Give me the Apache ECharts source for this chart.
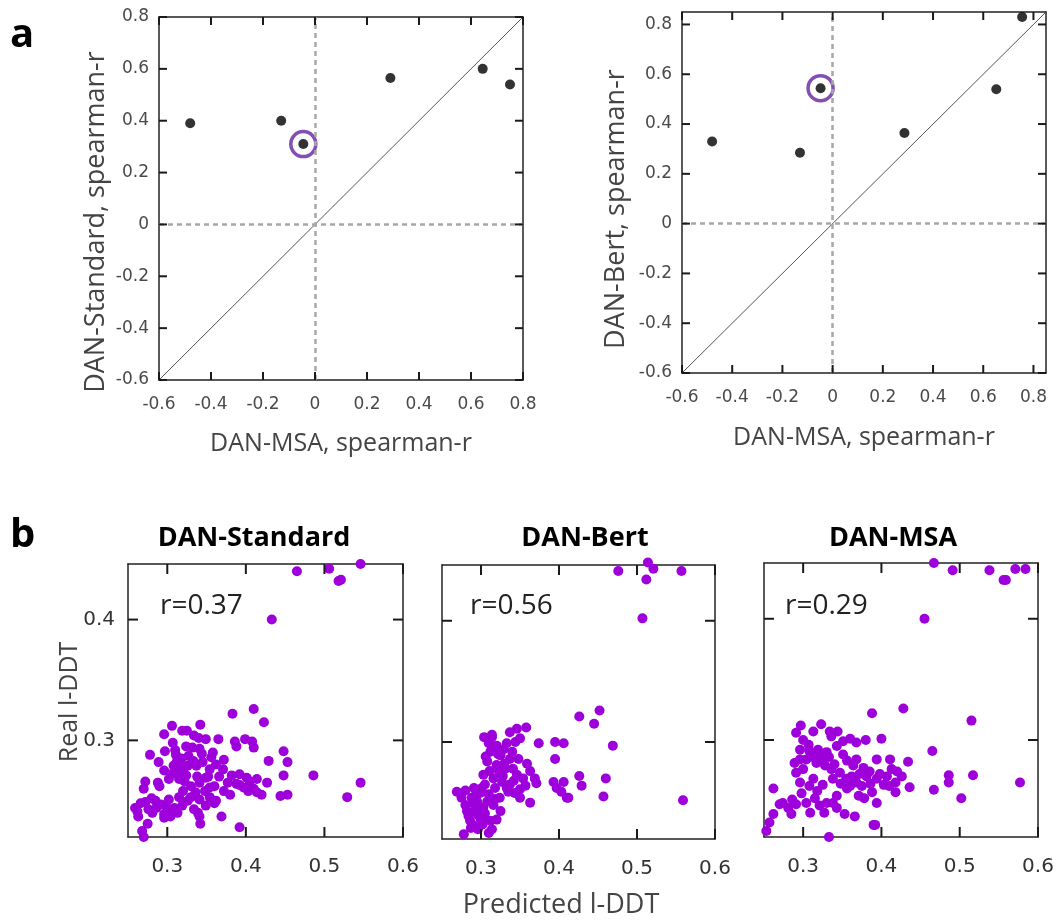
<!DOCTYPE html>
<html><head><meta charset="utf-8">
<script src="https://cdn.jsdelivr.net/npm/echarts@6/dist/echarts.min.js"></script>
<style>html,body{margin:0;padding:0;background:#fff}#c{width:1062px;height:922px}</style>
</head><body><div id="c"></div>
<script>
// ---------- data ----------
const aTicks = [-0.6, -0.4, -0.2, 0, 0.2, 0.4, 0.6, 0.8];
const aStandard = [[-0.48,0.39],[-0.13,0.40],[-0.045,0.31],[0.29,0.565],[0.645,0.60],[0.75,0.54]];
const aStandardHighlight = [[-0.045,0.31]];
const aBert = [[-0.48,0.33],[-0.13,0.285],[-0.048,0.544],[0.286,0.364],[0.652,0.54],[0.755,0.83]];
const aBertHighlight = [[-0.048,0.544]];
const aDiagLeft = [[-0.6,-0.6],[0.8,0.8]];
const aDiagRight = [[-0.6,-0.6],[0.85,0.85]];

const bXTicks = [0.3, 0.4, 0.5, 0.6];
const bYTicks = [0.3, 0.4];
const bTitles = ['DAN-Standard', 'DAN-Bert', 'DAN-MSA'];
const bR = ['r=0.37', 'r=0.56', 'r=0.29'];

const bStandard = [
 [0.465,0.440],[0.506,0.442],[0.518,0.432],[0.521,0.433],[0.546,0.446],[0.433,0.400],
 [0.410,0.326],[0.383,0.322],[0.423,0.315],[0.486,0.271],[0.546,0.265],[0.529,0.253],
 [0.448,0.291],[0.453,0.282],[0.448,0.271],[0.429,0.283],[0.444,0.254],[0.453,0.255],
 [0.392,0.228],[0.369,0.237],[0.342,0.231],[0.270,0.220],[0.268,0.225],
 [0.306,0.312],[0.319,0.308],[0.325,0.308],[0.342,0.313],
 [0.296,0.305],[0.307,0.298],[0.334,0.304],[0.340,0.302],[0.349,0.301],[0.365,0.301],[0.386,0.299],[0.399,0.301],[0.408,0.299],
 [0.278,0.288],[0.297,0.291],[0.311,0.288],[0.324,0.295],[0.332,0.294],[0.341,0.293],[0.358,0.290],[0.372,0.284],[0.410,0.294],[0.388,0.295],
 [0.289,0.282],[0.296,0.275],[0.312,0.282],[0.315,0.275],[0.326,0.279],[0.337,0.279],[0.345,0.282],[0.354,0.276],[0.362,0.280],[0.371,0.276],[0.382,0.271],[0.392,0.272],[0.401,0.269],[0.414,0.268],[0.427,0.265],
 [0.272,0.266],[0.288,0.265],[0.290,0.262],[0.315,0.268],[0.324,0.271],[0.341,0.265],[0.349,0.269],[0.354,0.261],[0.377,0.265],[0.388,0.264],[0.397,0.261],[0.410,0.260],[0.420,0.255],
 [0.270,0.260],[0.302,0.251],[0.315,0.253],[0.330,0.253],[0.341,0.251],[0.354,0.253],[0.362,0.250],[0.380,0.255],[0.403,0.258],[0.414,0.257],
 [0.259,0.244],[0.266,0.248],[0.276,0.243],[0.281,0.240],[0.296,0.239],[0.309,0.244],[0.319,0.246],[0.334,0.243],[0.339,0.240],[0.349,0.246],[0.360,0.248],
 [0.263,0.237],[0.275,0.231],[0.296,0.236],[0.304,0.237],[0.313,0.240],[0.341,0.237],
 [0.318,0.285],[0.322,0.278],[0.305,0.272],[0.330,0.262],[0.285,0.250],[0.292,0.247],[0.352,0.270],[0.336,0.257],
 [0.310,0.292],[0.314,0.284],[0.318,0.272],[0.322,0.266],[0.327,0.287],[0.333,0.283],[0.338,0.270],[0.344,0.289],
 [0.308,0.279],[0.302,0.268],[0.320,0.258],[0.326,0.250],[0.300,0.244],[0.286,0.244],[0.280,0.252],[0.272,0.249],
 [0.360,0.262],[0.366,0.270],[0.356,0.286],[0.348,0.258],[0.392,0.263],[0.405,0.266],[0.372,0.258],[0.262,0.241]
];
const bBert = [
 [0.476,0.441],[0.514,0.448],[0.521,0.443],[0.512,0.434],[0.557,0.441],[0.507,0.402],
 [0.426,0.321],[0.452,0.326],[0.445,0.315],[0.469,0.297],[0.395,0.300],[0.406,0.299],[0.374,0.299],[0.395,0.286],
 [0.559,0.252],[0.457,0.255],[0.460,0.270],[0.426,0.272],[0.429,0.264],[0.410,0.254],
 [0.403,0.259],[0.393,0.267],[0.406,0.267],[0.397,0.262],[0.412,0.254],
 [0.358,0.312],[0.346,0.311],[0.337,0.308],[0.350,0.303],[0.314,0.304],[0.310,0.299],[0.320,0.297],[0.333,0.299],
 [0.340,0.292],[0.312,0.292],[0.325,0.289],[0.337,0.286],[0.348,0.286],[0.359,0.282],[0.363,0.276],
 [0.308,0.284],[0.320,0.281],[0.331,0.278],[0.346,0.273],[0.354,0.270],[0.369,0.270],[0.371,0.266],
 [0.303,0.273],[0.316,0.270],[0.327,0.267],[0.337,0.265],[0.335,0.259],[0.350,0.261],[0.350,0.254],[0.363,0.250],
 [0.269,0.259],[0.280,0.260],[0.291,0.262],[0.299,0.258],[0.310,0.257],[0.295,0.251],[0.282,0.243],[0.280,0.248],
 [0.291,0.243],[0.303,0.246],[0.316,0.248],[0.325,0.243],[0.299,0.237],[0.286,0.235],[0.312,0.235],[0.320,0.236],
 [0.291,0.231],[0.314,0.228],[0.310,0.225],[0.278,0.224],[0.304,0.304],[0.314,0.306],
 [0.323,0.276],[0.330,0.282],[0.305,0.265],[0.318,0.262],[0.296,0.240],[0.305,0.241],[0.288,0.254],[0.341,0.278],
 [0.315,0.296],[0.322,0.290],[0.328,0.272],[0.333,0.262],[0.342,0.268],[0.311,0.276],[0.306,0.288],[0.318,0.253],
 [0.308,0.251],[0.297,0.246],[0.290,0.250],[0.284,0.239],[0.302,0.232],[0.296,0.228],[0.287,0.229],[0.306,0.236],
 [0.324,0.254],[0.343,0.258],[0.357,0.264],[0.329,0.294],[0.344,0.300],[0.301,0.262],[0.293,0.256],[0.275,0.254]
];
const bMSA = [
 [0.467,0.446],[0.491,0.440],[0.538,0.440],[0.556,0.432],[0.559,0.432],[0.571,0.441],[0.584,0.441],[0.455,0.400],
 [0.428,0.326],[0.388,0.322],[0.515,0.316],[0.465,0.291],[0.486,0.271],[0.486,0.265],[0.517,0.271],[0.467,0.259],
 [0.502,0.252],[0.577,0.265],[0.436,0.261],[0.434,0.282],[0.411,0.284],
 [0.253,0.225],[0.257,0.232],[0.262,0.239],[0.262,0.260],[0.333,0.220],[0.390,0.230],
 [0.297,0.312],[0.291,0.306],[0.323,0.313],[0.313,0.307],[0.336,0.303],[0.344,0.307],[0.334,0.307],
 [0.360,0.301],[0.368,0.298],[0.380,0.300],[0.400,0.301],
 [0.296,0.292],[0.308,0.291],[0.319,0.292],[0.330,0.290],[0.343,0.295],[0.351,0.288],
 [0.304,0.284],[0.317,0.281],[0.328,0.279],[0.289,0.281],[0.356,0.283],[0.364,0.279],[0.377,0.277],[0.385,0.274],[0.394,0.284],
 [0.291,0.273],[0.296,0.265],[0.313,0.268],[0.325,0.263],[0.338,0.268],[0.347,0.273],[0.355,0.268],[0.368,0.265],
 [0.381,0.270],[0.394,0.268],[0.407,0.270],[0.420,0.274],[0.418,0.265],[0.403,0.263],[0.418,0.257],[0.388,0.257],
 [0.371,0.254],[0.356,0.260],[0.343,0.254],[0.330,0.248],[0.315,0.252],[0.304,0.248],[0.321,0.246],[0.309,0.240],
 [0.291,0.247],[0.281,0.244],[0.285,0.239],[0.270,0.247],[0.274,0.248],[0.343,0.244],[0.353,0.239],[0.366,0.237],
 [0.394,0.248],[0.392,0.230],[0.300,0.276],[0.322,0.286],[0.336,0.276],[0.360,0.262],[0.375,0.262],
 [0.300,0.300],[0.307,0.296],[0.312,0.286],[0.324,0.284],[0.333,0.286],[0.340,0.280],[0.348,0.264],[0.362,0.270],
 [0.372,0.272],[0.386,0.264],[0.398,0.272],[0.410,0.262],[0.426,0.270],[0.318,0.258],[0.308,0.262],[0.298,0.256],
 [0.338,0.248],[0.327,0.240],[0.286,0.251],[0.378,0.252],[0.413,0.276],[0.351,0.299],[0.368,0.284],[0.296,0.284]
];

// ---------- layout ----------
const FONT = 'DejaVu Sans';
const gridsA = [
  {left:159, top:17, width:364, height:363},
  {left:682, top:12, width:364, height:361}
];
const gridsB = [
  {left:128, top:564, width:275, height:273},
  {left:442, top:565, width:273, height:274},
  {left:764, top:563, width:274, height:274}
];
const grids = gridsA.concat(gridsB).map(g => Object.assign({show:false}, g));

const xAxes = [], yAxes = [];
const series = [];
const fmt = v => (+Number(v).toFixed(2)).toString();

function addPanel(gi, min, max, xt, yt, showY, tickLen, labelSize, xMargin, yMargin, labelColor) {
  const common = (pos, ticks, showLabel, isY) => ({
    type:'value', gridIndex:gi, position:pos, min:min[isY?1:0], max:max[isY?1:0],
    axisLine:{show:true, onZero:false, lineStyle:{color:'#222', width:1.5}}, splitLine:{show:false},
    axisTick:{show:false},
    axisLabel:{show:showLabel, customValues:ticks, color:labelColor, fontFamily:FONT, fontSize:labelSize,
      margin:isY?yMargin:xMargin, formatter:fmt}
  });
  const xi = xAxes.length, yi = yAxes.length;
  xAxes.push(common('bottom', xt, true, false));
  xAxes.push(common('top', xt, false, false));
  yAxes.push(common('left', yt, showY, true));
  yAxes.push(common('right', yt, false, true));
  // inward tick marks on all four sides, placed through the axis scales (drawn on an upper layer)
  series.push({type:'custom', xAxisIndex:xi, yAxisIndex:yi, silent:true, clip:false, zlevel:1, z:100,
    data: xt.map(v => [v, min[1]]),
    renderItem: (params, api) => {
      const cs = params.coordSys;
      const p = api.coord([api.value(0), api.value(1)]);
      const b = cs.y + cs.height, t = cs.y;
      return {type:'group', children:[
        {type:'rect', shape:{x:p[0] - 1, y:b - tickLen, width:2, height:tickLen}, style:{fill:'#1a1a1a'}},
        {type:'rect', shape:{x:p[0] - 1, y:t, width:2, height:tickLen}, style:{fill:'#1a1a1a'}}
      ]};
    }});
  series.push({type:'custom', xAxisIndex:xi, yAxisIndex:yi, silent:true, clip:false, zlevel:1, z:100,
    data: yt.map(v => [min[0], v]),
    renderItem: (params, api) => {
      const cs = params.coordSys;
      const p = api.coord([api.value(0), api.value(1)]);
      const l = cs.x, r = cs.x + cs.width;
      return {type:'group', children:[
        {type:'rect', shape:{x:l, y:p[1] - 1, width:tickLen, height:2}, style:{fill:'#1a1a1a'}},
        {type:'rect', shape:{x:r - tickLen, y:p[1] - 1, width:tickLen, height:2}, style:{fill:'#1a1a1a'}}
      ]};
    }});
  return [xi, yi];
}

const idx = [];
idx.push(addPanel(0, [-0.6,-0.6], [0.8,0.8], aTicks, aTicks, true, 8, 17, 16, 10, '#4a4a4a'));
idx.push(addPanel(1, [-0.6,-0.6], [0.85,0.85], aTicks, aTicks, true, 8, 17, 16, 10, '#4a4a4a'));
for (let i = 0; i < 3; i++) idx.push(addPanel(2+i, [0.25,0.22], [0.6,0.446], bXTicks, bYTicks, i===0, 10, 20, 20, 13, '#333'));

const aSets = [[aStandard, aStandardHighlight, aDiagLeft],[aBert, aBertHighlight, aDiagRight]];
aSets.forEach((s, i) => {
  const [xi, yi] = idx[i];
  series.push({type:'line', xAxisIndex:xi, yAxisIndex:yi, data:s[2], symbol:'none', silent:true,
    lineStyle:{color:'#555', width:1}, z:1});
  series.push({type:'scatter', xAxisIndex:xi, yAxisIndex:yi, data:s[0], symbolSize:10,
    itemStyle:{color:'#000'}, z:3,
    markLine:{silent:true, symbol:'none', label:{show:false},
      lineStyle:{color:'#a8a8a8', type:[5,4], width:2.5},
      data:[{xAxis:0},{yAxis:0}]}});
  series.push({type:'scatter', xAxisIndex:xi, yAxisIndex:yi, data:s[1], symbol:'circle', symbolSize:25,
    itemStyle:{color:'transparent', borderColor:'#64249e', borderWidth:3.5}, z:4});
});
[bStandard, bBert, bMSA].forEach((d, i) => {
  const [xi, yi] = idx[2+i];
  series.push({type:'scatter', xAxisIndex:xi, yAxisIndex:yi, data:d, symbolSize:10, clip:false,
    itemStyle:{color:'#9d00db', opacity:1}, z:3});
});

const bTitleX = [254, 585, 893];
const bRX = [160, 470, 785];
const graphic = [
  {type:'text', left:10, top:16, style:{text:'a', font:'bold 40px "Open Sans"', fill:'#000'}},
  {type:'text', left:10, top:516, style:{text:'b', font:'bold 40px "Open Sans"', fill:'#000'}},
  {type:'text', x:341, y:444, style:{text:'DAN-MSA, spearman-r', font:'25px "Open Sans"', fill:'#444', align:'center', verticalAlign:'middle'}},
  {type:'text', x:864, y:438, style:{text:'DAN-MSA, spearman-r', font:'25px "Open Sans"', fill:'#444', align:'center', verticalAlign:'middle'}},
  {type:'text', x:96, y:222, rotation:Math.PI/2, style:{text:'DAN-Standard, spearman-r', font:'27px "Open Sans"', fill:'#444', align:'center', verticalAlign:'middle'}},
  {type:'text', x:616, y:209, rotation:Math.PI/2, style:{text:'DAN-Bert, spearman-r', font:'27px "Open Sans"', fill:'#444', align:'center', verticalAlign:'middle'}},
  {type:'text', x:70, y:702, rotation:Math.PI/2, style:{text:'Real l-DDT', font:'25px "Open Sans"', fill:'#444', align:'center', verticalAlign:'middle'}},
  {type:'text', x:561, y:905, style:{text:'Predicted l-DDT', font:'27px "Open Sans"', fill:'#444', align:'center', verticalAlign:'middle'}}
];
gridsB.forEach((g, i) => {
  graphic.push({type:'text', x:bTitleX[i], y:538, style:{text:bTitles[i], font:'bold 27px "Open Sans"', fill:'#000', align:'center', verticalAlign:'middle'}});
  graphic.push({type:'text', x:bRX[i], y:606, style:{text:bR[i], font:'28px "Open Sans"', fill:'#222', align:'left', verticalAlign:'middle'}});
});

const chart = echarts.init(document.getElementById('c'), null, {renderer:'canvas'});
chart.setOption({
  animation:false,
  backgroundColor:'#fff',
  textStyle:{fontFamily:FONT},
  grid:grids, xAxis:xAxes, yAxis:yAxes, series:series, graphic:graphic
});
</script></body></html>
